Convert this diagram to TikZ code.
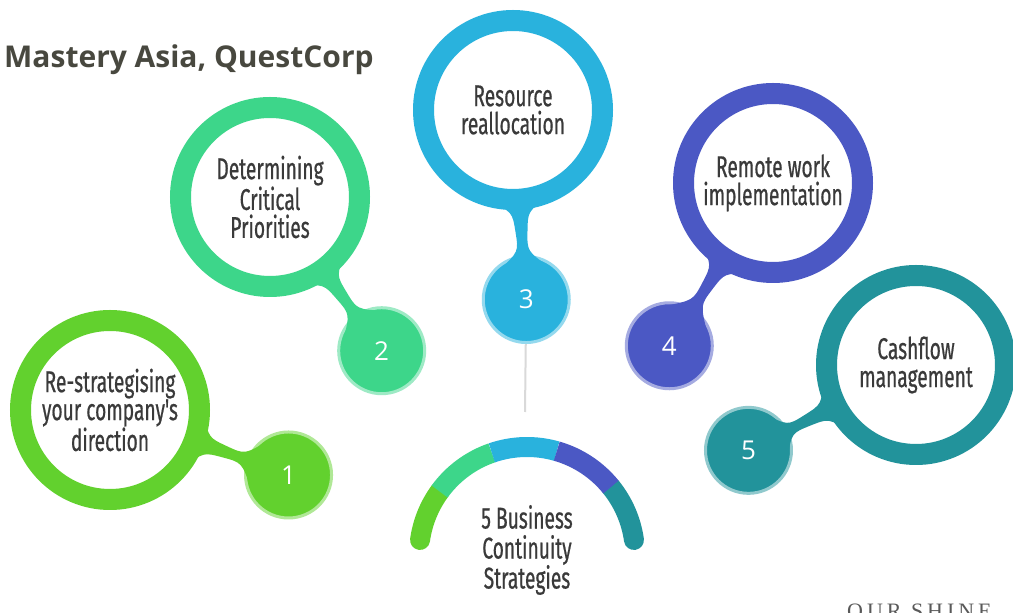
\documentclass[tikz,border=0pt]{standalone}
\usepackage{fontspec}
\setmainfont{Fira Sans}
\newfontfamily\labelfont[FakeStretch=0.64, FakeBold=0.6]{Fira Sans}
\newfontfamily\titlefont{Open Sans}
\newfontfamily\footfont[LetterSpace=18]{Liberation Serif}
\usetikzlibrary{calc}

\definecolor{ringone}{HTML}{62D12E}
\definecolor{ringtwo}{HTML}{3DD68A}
\definecolor{ringthree}{HTML}{29B2DD}
\definecolor{ringfour}{HTML}{4B58C4}
\definecolor{ringfive}{HTML}{22939B}
\definecolor{textgray}{HTML}{3A3A3A}
\definecolor{titlegray}{HTML}{48483F}

\begin{document}
\begin{tikzpicture}[x=1pt, y=1pt]
    \tikzset{ring/.style={circle, draw=#1, line width=21pt, fill=white, minimum size=179pt, inner sep=0pt, align=center, text=textgray, font={\labelfont\fontsize{30}{28}\selectfont}}}
    \tikzset{dot/.style={circle, fill=#1, draw=#1!50!white, line width=3pt, minimum size=86pt, inner sep=0pt, text=white, font={\titlefont\fontsize{26}{26}\selectfont}}}
    \tikzset{band/.style={line width=20pt, draw=#1}}
    \useasboundingbox (0,0) rectangle (1013,613);
    \clip (0,0) rectangle (1013,613);
    \fill[white] (0,0) rectangle (1013,613);

    \node[anchor=west, inner sep=0pt, text=titlegray, font={\titlefont\bfseries\fontsize{30}{30}\selectfont}] (title) at (4,553) {Mastery Asia, QuestCorp};

    \node[ring=ringone]   (ring1) at (110,203) {Re-strategising\\your company's\\direction};
    \node[ring=ringtwo]   (ring2) at (270,416) {Determining\\Critical\\Priorities};
    \node[ring=ringthree] (ring3) at (513,503) {Resource\\reallocation};
    \node[ring=ringfour]  (ring4) at (773,430) {Remote work\\implementation};
    \node[ring=ringfive]  (ring5) at (916,248) {Cashflow\\management};

    \node[dot=ringone]   (dot1) at ($(ring1)+(-20:190pt)$) {1};
    \node[dot=ringtwo]   (dot2) at ($(ring2)+(-54:190pt)$) {2};
    \node[dot=ringthree] (dot3) at ($(ring3)+(-86:190pt)$) {3};
    \node[dot=ringfour]  (dot4) at ($(ring4)+(-122.5:193pt)$) {4};
    \node[dot=ringfive]  (dot5) at ($(ring5)+(-153:188pt)$) {5};

    % necks between ring and dot
    \foreach \i/\col in {1/ringone, 2/ringtwo, 3/ringthree, 4/ringfour, 5/ringfive} {
        \coordinate (g) at ($(ring\i.center)!122pt!(dot\i.center)$);
        \coordinate (gl) at ($(g)!6pt!90:(dot\i.center)$);
        \coordinate (gr) at ($(g)!6pt!-90:(dot\i.center)$);
        \fill[\col] ($(ring\i.center)!94pt!18:(dot\i.center)$)
            .. controls ($(gl)!20pt!180:(dot\i.center)$) .. (gl)
            .. controls ($(gl)!20pt!(dot\i.center)$) .. ($(dot\i.center)!40pt!-40:(ring\i.center)$)
            -- ($(dot\i.center)!40pt!40:(ring\i.center)$)
            .. controls ($(gr)!20pt!(dot\i.center)$) .. (gr)
            .. controls ($(gr)!20pt!180:(dot\i.center)$) .. ($(ring\i.center)!94pt!-18:(dot\i.center)$)
            -- cycle;
    }

    \coordinate (hub) at (527,58);
    \coordinate (tail) at (525,201);
    \draw[black!15, line width=2pt] (dot3) -- (tail);

    \draw[band=ringone, line cap=round]  ([shift={(172:108pt)}]hub) arc (172:144:108pt);
    \draw[band=ringfive, line cap=round] ([shift={(39:108pt)}]hub) arc (39:8:108pt);
    \draw[band=ringtwo]   ([shift={(144:108pt)}]hub) arc (144:109:108pt);
    \draw[band=ringthree] ([shift={(109:108pt)}]hub) arc (109:74:108pt);
    \draw[band=ringfour]  ([shift={(74:108pt)}]hub) arc (74:39:108pt);

    \node[align=center, inner sep=0pt, text=textgray, font={\labelfont\fontsize{30}{30}\selectfont}] (hubtext) at (527,63) {5 Business\\Continuity\\Strategies};

    \node[anchor=base west, inner sep=0pt, text=black!65, font={\footfont\fontsize{22}{22}\selectfont}] (footer) at (847,-6) {OUR SHINE};
\end{tikzpicture}
\end{document}
